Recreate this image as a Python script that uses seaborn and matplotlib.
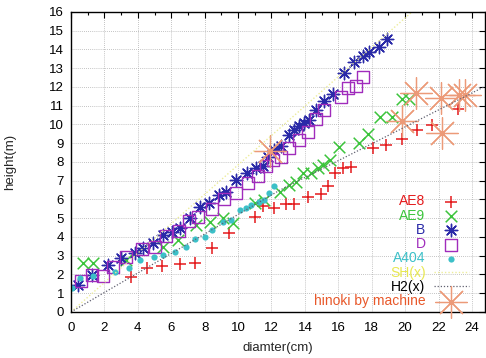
import matplotlib
matplotlib.use("Agg")
import matplotlib.pyplot as plt
import seaborn as sns
import numpy as np
from matplotlib.ticker import MultipleLocator

# ---- data ----
ae8_x = [3.62, 4.56, 5.47, 6.55, 7.4, 8.46, 9.45, 10.99, 11.5, 12.18, 12.88, 13.37, 14.17, 14.97,
         15.37, 15.82, 16.26, 16.76, 18.05, 18.85, 19.84, 20.7, 21.63, 23.19]
ae8_y = [1.85, 2.33, 2.45, 2.56, 2.6, 3.39, 4.23, 5.05, 5.65, 5.55, 5.76, 5.76, 6.12, 6.29,
         6.72, 7.4, 7.66, 7.72, 8.73, 8.9, 9.2, 9.72, 9.97, 10.81]

ae9_x = [0.74, 1.33, 3.32, 5.51, 6.41, 7.5, 8.3, 9.09, 9.69, 10.99, 11.58, 12.48, 13.07, 13.47,
         13.87, 14.37, 14.8, 15.1, 15.5, 16.06, 17.25, 17.75, 18.5, 19.2, 19.8, 20.2]
ae9_y = [2.6, 2.6, 2.77, 3.48, 3.84, 4.64, 4.82, 5.0, 4.76, 5.8, 5.97, 6.42, 6.77, 6.95,
         7.4, 7.4, 7.7, 7.85, 8.1, 8.82, 9.0, 9.5, 10.38, 10.42, 11.34, 11.34]

b_x = [0.44, 1.27, 2.23, 2.99, 3.82, 4.32, 4.92, 5.51, 6.07, 6.51, 7.14, 7.7, 8.24, 8.86, 9.3,
       9.89, 10.55, 11.08, 11.48, 11.78, 12.18, 12.58, 13.07, 13.37, 13.67, 13.97, 14.27, 14.67,
       15.16, 15.7, 16.36, 16.96, 17.45, 17.85, 18.41, 18.89]
b_y = [1.44, 1.97, 2.5, 2.86, 3.16, 3.39, 3.66, 4.1, 4.28, 4.46, 5.03, 5.6, 5.83, 6.24, 6.42,
       7.04, 7.4, 7.66, 7.8, 8.28, 8.64, 8.85, 9.44, 9.71, 9.92, 10.06, 10.24, 10.77,
       11.27, 11.6, 12.73, 13.35, 13.65, 13.88, 14.15, 14.54]

d_x = [0.58, 1.27, 1.93, 2.53, 3.32, 4.28, 5.01, 5.71, 6.47, 7.06, 7.6, 8.46, 9.15, 9.89, 10.59,
       11.18, 11.68, 12.08, 12.58, 13.07, 13.67, 14.17, 14.67, 15.16, 16.16, 16.56, 17.05, 17.45]
d_y = [1.67, 1.97, 1.92, 2.42, 2.95, 3.34, 3.45, 4.05, 4.34, 4.87, 5.05, 5.48, 6.01, 6.33, 6.86,
       7.25, 7.8, 8.1, 8.28, 8.73, 9.17, 9.62, 10.27, 10.77, 11.45, 11.93, 12.05, 12.51]

a404_x = [0.04, 0.54, 1.33, 2.63, 3.48, 4.12, 4.96, 5.51, 6.21, 6.91, 7.4, 8.0, 8.46, 9.09, 9.59,
          10.09, 10.49, 10.79, 11.24, 11.58, 11.88, 12.18]
a404_y = [1.3, 1.8, 1.94, 2.15, 2.33, 2.77, 2.95, 3.04, 3.22, 3.45, 3.87, 3.98, 4.37, 4.82, 4.91,
          5.44, 5.53, 5.71, 5.88, 5.97, 6.33, 6.72]

sh_x = [0.0, 20.4]
sh_y = [0.0, 16.0]

h2_x = [0.0, 12.5, 19.24, 24.7]
h2_y = [0.0, 6.5, 9.53, 12.0]

hinoki_x = [11.9, 19.84, 20.64, 22.13, 22.19, 23.22, 23.58]
hinoki_y = [8.6, 10.2, 11.7, 11.4, 9.56, 11.57, 11.57]

labels = ["AE8", "AE9", "B", "D", "A404", "SH(x)", "H2(x)", "hinoki by machine"]
label_colors = ["#e41a1c", "#3cc43c", "#2a2aa8", "#a02cbc", "#3cc0c8", "#e8e850", "#000000", "#e8582a"]

# ---- plot ----
sns.set_style("white")
plt.rcParams['font.family'] = ['Liberation Sans', 'DejaVu Sans']

fig = plt.figure(figsize=(4.86, 3.58), dpi=100)
ax = fig.add_axes([0.146, 0.1285, 0.851, 0.838])

sns.scatterplot(x=ae8_x, y=ae8_y, ax=ax, marker="+", s=70, color="#e41a1c", linewidth=1.1, label=labels[0])
sns.scatterplot(x=ae9_x, y=ae9_y, ax=ax, marker="x", s=70, color="#3cc43c", linewidth=1.1, label=labels[1])
sns.scatterplot(x=b_x, y=b_y, ax=ax, marker=(8, 2, 0), s=80, color="#2a2aa8", linewidth=1.0, label=labels[2])
sns.scatterplot(x=d_x, y=d_y, ax=ax, marker="s", s=75, facecolor="none", edgecolor="#a02cbc",
                linewidth=1.0, label=labels[3])
sns.scatterplot(x=a404_x, y=a404_y, ax=ax, marker="o", s=20, color="#3cc0c8", linewidth=0, label=labels[4])
sns.lineplot(x=sh_x, y=sh_y, ax=ax, color="#ecec9a", linestyle=(0, (1, 1.5)), linewidth=1.0, label=labels[5])
sns.lineplot(x=h2_x, y=h2_y, ax=ax, color="#606070", linestyle=(0, (1, 1.5)), linewidth=0.9, label=labels[6])
sns.scatterplot(x=hinoki_x, y=hinoki_y, ax=ax, marker=(8, 2, 0), s=520, color="#ec9a78",
                linewidth=0.9, label=labels[7])

ax.set_xlim(0, 24.75)
ax.set_ylim(0, 16)
ax.xaxis.set_major_locator(MultipleLocator(2))
ax.xaxis.set_minor_locator(MultipleLocator(1))
ax.yaxis.set_major_locator(MultipleLocator(1))
ax.tick_params(axis="both", which="both", direction="in", top=True, right=True,
               labelsize=9.5, colors="black")
ax.tick_params(axis="x", pad=7)
ax.tick_params(axis="y", pad=5)
ax.tick_params(which="major", length=4, width=0.8)
ax.tick_params(which="minor", length=2, width=0.8)
ax.grid(True, which="major", color="#b0b0b0", linestyle=(0, (1, 1.5)), linewidth=0.6)
for sp in ax.spines.values():
    sp.set_color("black")
    sp.set_linewidth(1.0)

ax.set_xlabel("diamter(cm)", fontsize=9.5, labelpad=6)
ax.set_ylabel("height(m)", fontsize=9.5, labelpad=24)

handles, labs = ax.get_legend_handles_labels()
leg = ax.legend(handles, labs, loc="lower right", bbox_to_anchor=(0.985, -0.02), frameon=False,
                markerfirst=False, fontsize=10, labelspacing=0.02, handlelength=2.5,
                handletextpad=0.6, borderpad=0.2, labelcolor=label_colors)

fig.savefig("out.png", dpi=100)
